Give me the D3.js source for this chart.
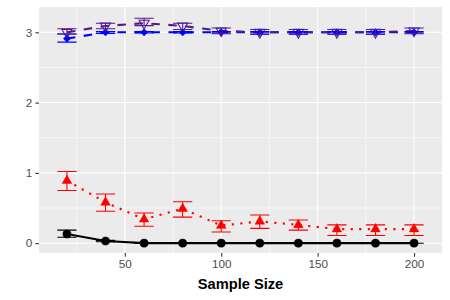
<!DOCTYPE html>
<html>
<head>
<meta charset="utf-8">
<script src="https://cdn.jsdelivr.net/npm/d3@7"></script>
<style>
  body { margin: 0; background: #fff; }
  svg { display: block; }
</style>
</head>
<body>
<div id="chart"></div>
<script>
// values
var sampleSize = [20, 40, 60, 80, 100, 120, 140, 160, 180, 200]
var xTicks = [50, 100, 150, 200]
var yTicks = [0, 1, 2, 3]

var blackMean = [0.13, 0.03, 0, 0, 0, 0, 0, 0, 0, 0]
var blackLo = [0.085, 0.02, 0, 0, 0, 0, 0, 0, 0, 0]
var blackHi = [0.185, 0.04, 0, 0, 0, 0, 0, 0, 0, 0]

var redMean = [0.89, 0.58, 0.34, 0.49, 0.25, 0.31, 0.26, 0.2, 0.2, 0.2]
var redLo = [0.75, 0.455, 0.24, 0.37, 0.16, 0.21, 0.185, 0.11, 0.11, 0.11]
var redHi = [1.02, 0.7, 0.43, 0.59, 0.32, 0.4, 0.33, 0.26, 0.26, 0.26]

var blueMean = [2.91, 3.0, 3.0, 3.0, 3.0, 3.0, 3.0, 3.0, 3.0, 3.0]
var blueLo = [2.86, 2.985, 2.99, 2.99, 2.99, 2.99, 2.99, 2.99, 2.99, 2.99]
var blueHi = [2.975, 3.01, 3.01, 3.01, 3.01, 3.01, 3.01, 3.01, 3.01, 3.01]

var purpleMean = [3.0, 3.09, 3.13, 3.09, 3.02, 3.0, 3.0, 3.0, 3.0, 3.02]
var purpleLo = [2.975, 3.05, 3.095, 3.04, 2.98, 2.97, 2.97, 2.97, 2.97, 2.98]
var purpleHi = [3.05, 3.13, 3.2, 3.13, 3.06, 3.04, 3.04, 3.04, 3.04, 3.06]

var series = [
  { name: 'black', mean: blackMean, lo: blackLo, hi: blackHi, colour: '#000000', dash: null, shape: 'circle' },
  { name: 'red', mean: redMean, lo: redLo, hi: redHi, colour: '#FF0000', dash: '2.13,6.4', shape: 'triangle' },
  { name: 'blue', mean: blueMean, lo: blueLo, hi: blueHi, colour: '#0000FF', dash: '8.5,8.5', shape: 'diamond' },
  { name: 'purple', mean: purpleMean, lo: purpleLo, hi: purpleHi, colour: '#551A8B', dash: '8.5,8.5', shape: 'tridown' }
]

var W = 450, H = 300
var panel = { left: 39, right: 442, top: 7, bottom: 253 }
var barHalf = 5 // errorbar half width in x units

var svg = d3.select('#chart').append('svg')
  .attr('width', W).attr('height', H)
  .style('font-family', '"Liberation Sans", Arial, sans-serif')

// ggplot style 5% expansion
var xmin = d3.min(sampleSize) - barHalf, xmax = d3.max(sampleSize) + barHalf
var xpad = (xmax - xmin) * 0.05
var x = d3.scaleLinear().domain([xmin - xpad, xmax + xpad]).range([panel.left, panel.right])
var y = d3.scaleLinear().domain([-0.14, 3.36]).range([panel.bottom, panel.top])

svg.append('rect')
  .attr('x', panel.left).attr('y', panel.top)
  .attr('width', panel.right - panel.left).attr('height', panel.bottom - panel.top)
  .attr('fill', '#EBEBEB')

var grid = svg.append('g')
var xMinor = [25, 75, 125, 175]
var yMinor = [0.5, 1.5, 2.5]
grid.selectAll('.xminor').data(xMinor).enter().append('line')
  .attr('x1', d => x(d)).attr('x2', d => x(d))
  .attr('y1', panel.top).attr('y2', panel.bottom)
  .attr('stroke', '#fff').attr('stroke-width', 0.53)
grid.selectAll('.yminor').data(yMinor).enter().append('line')
  .attr('y1', d => y(d)).attr('y2', d => y(d))
  .attr('x1', panel.left).attr('x2', panel.right)
  .attr('stroke', '#fff').attr('stroke-width', 0.53)
grid.selectAll('.xmajor').data(xTicks).enter().append('line')
  .attr('x1', d => x(d)).attr('x2', d => x(d))
  .attr('y1', panel.top).attr('y2', panel.bottom)
  .attr('stroke', '#fff').attr('stroke-width', 1.07)
grid.selectAll('.ymajor').data(yTicks).enter().append('line')
  .attr('y1', d => y(d)).attr('y2', d => y(d))
  .attr('x1', panel.left).attr('x2', panel.right)
  .attr('stroke', '#fff').attr('stroke-width', 1.07)

// axes
var xAxis = svg.append('g')
  .attr('transform', 'translate(0,' + panel.bottom + ')')
  .call(d3.axisBottom(x).tickValues(xTicks).tickFormat(d3.format('d')).tickSize(3.67).tickPadding(3))
var yAxis = svg.append('g')
  .attr('transform', 'translate(' + panel.left + ',0)')
  .call(d3.axisLeft(y).tickValues(yTicks).tickFormat(d3.format('d')).tickSize(3.67).tickPadding(3))
;[xAxis, yAxis].forEach(a => {
  a.select('.domain').remove()
  a.selectAll('.tick line').attr('stroke', '#333333').attr('stroke-width', 1.07)
  a.selectAll('.tick text').attr('fill', '#4D4D4D')
    .style('font-size', '11.7px').style('font-family', '"Liberation Sans", Arial, sans-serif')
})

svg.append('text')
  .attr('x', (panel.left + panel.right) / 2).attr('y', 289)
  .attr('text-anchor', 'middle')
  .style('font-size', '14.67px').style('font-weight', 'bold')
  .text('Sample Size')

var plot = svg.append('g')

// lines
var line = d3.line().x(d => x(d.x)).y(d => y(d.y))
series.forEach(s => {
  var pts = sampleSize.map((v, i) => ({ x: v, y: s.mean[i] }))
  plot.append('path')
    .datum(pts)
    .attr('fill', 'none')
    .attr('stroke', s.colour)
    .attr('stroke-width', 2.13)
    .attr('stroke-dasharray', s.dash)
    .attr('d', line)
})

// points
var symbols = {
  circle: d3.symbol().type(d3.symbolCircle).size(52),
  triangle: d3.symbol().type(d3.symbolTriangle).size(40),
  diamond: d3.symbol().type(d3.symbolDiamond2).size(34),
  tridown: d3.symbol().type(d3.symbolTriangle).size(44)
}
series.forEach(s => {
  plot.selectAll('.pt-' + s.name)
    .data(sampleSize.map((v, i) => ({ x: v, y: s.mean[i] })))
    .enter().append('path')
    .attr('d', symbols[s.shape]())
    .attr('transform', d => 'translate(' + x(d.x) + ',' + y(d.y) + ')' + (s.shape === 'tridown' ? ' rotate(180)' : ''))
    .attr('fill', s.shape === 'tridown' ? 'none' : s.colour)
    .attr('stroke', s.colour)
    .attr('stroke-width', s.shape === 'tridown' ? 1.07 : 0.5)
})

// errorbars
series.forEach(s => {
  var g = plot.append('g').attr('stroke', s.colour).attr('stroke-width', 1.07).attr('fill', 'none')
  sampleSize.forEach((v, i) => {
    var x0 = x(v - barHalf), x1 = x(v + barHalf), xc = x(v)
    var lo = y(s.lo[i]), hi = y(s.hi[i])
    g.append('path').attr('d',
      'M' + x0 + ',' + hi + 'H' + x1 +
      'M' + xc + ',' + hi + 'V' + lo +
      'M' + x0 + ',' + lo + 'H' + x1)
  })
})
</script>
</body>
</html>
